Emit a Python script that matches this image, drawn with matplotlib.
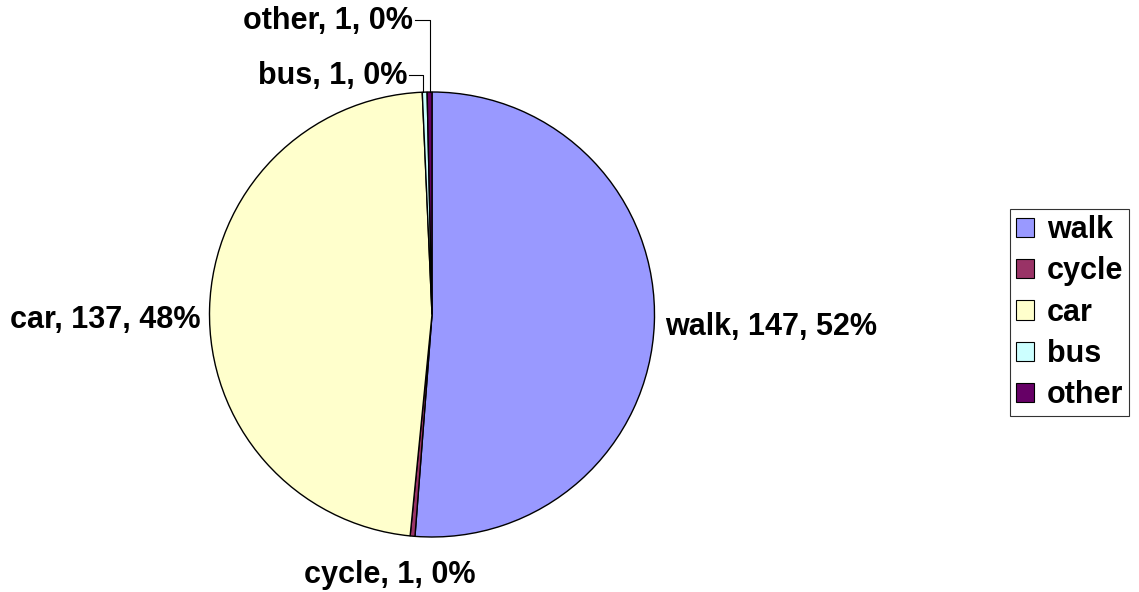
import matplotlib
matplotlib.use("Agg")
import matplotlib.pyplot as plt
import numpy as np

categories = ["walk", "cycle", "car", "bus", "other"]
values = [147, 1, 137, 1, 1]
percent_labels = ["52%", "0%", "48%", "0%", "0%"]
colors = ["#9999FF", "#993366", "#FFFFCC", "#CCFFFF", "#660066"]

W, H = 1139, 592
fig = plt.figure(figsize=(W / 100, H / 100), dpi=100)
ax = fig.add_axes([0, 0, 1, 1])

cx, cy, r = 432, H - 314.5, 222.5
wedges, _ = ax.pie(values, colors=colors, startangle=90, counterclock=False,
                   center=(cx, cy), radius=r,
                   wedgeprops=dict(edgecolor="black", linewidth=1.0))
ax.set_xlim(0, W)
ax.set_ylim(0, H)
ax.set_aspect("auto")
ax.axis("off")

FS = 22
font = dict(family=["Liberation Sans", "DejaVu Sans"], fontweight="bold", fontsize=FS)
texts = [f"{c}, {v}, {p}" for c, v, p in zip(categories, values, percent_labels)]

def mid_point(w):
    a = np.deg2rad((w.theta1 + w.theta2) / 2)
    return cx + r * np.cos(a), cy + r * np.sin(a)

# walk
ax.text(665, H - 327, texts[0], ha="left", va="center", **font)
# cycle
ax.text(390, H - 575, texts[1], ha="center", va="center", **font)
# car
ax.text(200, H - 320, texts[2], ha="right", va="center", **font)
# bus with leader
bx, by = mid_point(wedges[3])
ax.text(407, H - 76, texts[3], ha="right", va="center", **font)
ax.plot([409, bx - 2, bx - 2], [H - 75, H - 75, by], color="black", lw=0.8)
# other with leader
ox, oy = mid_point(wedges[4])
ax.text(413, H - 21, texts[4], ha="right", va="center", **font)
ax.plot([415, ox, ox], [H - 20, H - 20, oy], color="black", lw=0.8)

handles = [plt.Rectangle((0, 0), 1, 1, facecolor=c, edgecolor="black", lw=0.8) for c in colors]
leg = fig.legend(handles, categories, loc="upper left", bbox_to_anchor=(1010 / W, 1 - 209 / H),
                 frameon=True, fancybox=False, edgecolor="black",
                 prop=dict(family="Liberation Sans", weight="bold", size=FS),
                 handlelength=0.6, handleheight=0.6, handletextpad=0.4,
                 labelspacing=0.37, borderpad=0.2, borderaxespad=0)
leg.get_frame().set_linewidth(0.8)

fig.savefig("out.png", dpi=100)
